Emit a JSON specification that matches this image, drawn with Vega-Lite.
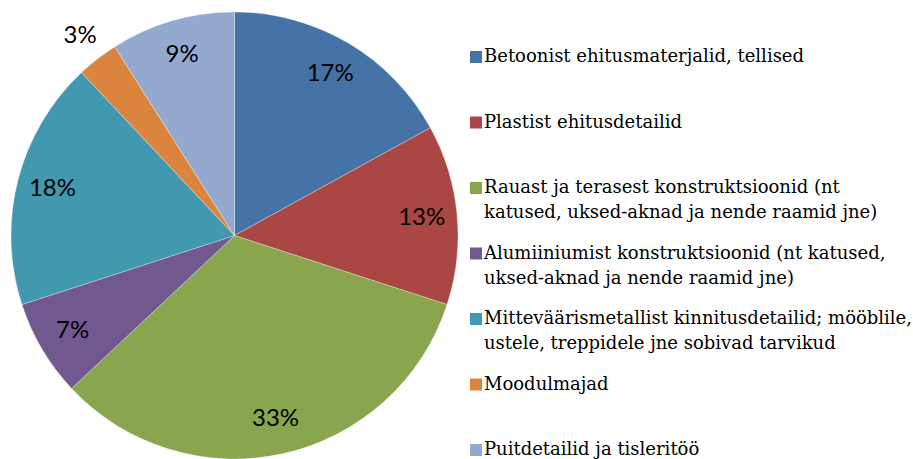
{
  "$schema": "https://vega.github.io/schema/vega-lite/v6.json",
  "padding": {"left": 10, "top": 11, "right": 0, "bottom": 0},
  "background": "white",
  "config": {"view": {"stroke": null}, "concat": {"spacing": 11}},
  "data": {
    "values": [
      {"order": 1, "name": "Betoonist ehitusmaterjalid, tellised", "share": 0.17, "lines": ["Betoonist ehitusmaterjalid, tellised"]},
      {"order": 2, "name": "Plastist ehitusdetailid", "share": 0.13, "lines": ["Plastist ehitusdetailid"]},
      {"order": 3, "name": "Rauast ja terasest konstruktsioonid", "share": 0.33, "lines": ["Rauast ja terasest konstruktsioonid (nt", "katused, uksed-aknad ja nende raamid jne)"]},
      {"order": 4, "name": "Alumiiniumist konstruktsioonid", "share": 0.07, "lines": ["Alumiiniumist konstruktsioonid (nt katused,", "uksed-aknad ja nende raamid jne)"]},
      {"order": 5, "name": "Mitteväärismetallist kinnitusdetailid", "share": 0.18, "lines": ["Mitteväärismetallist kinnitusdetailid; mööblile,", "ustele, treppidele jne sobivad tarvikud"]},
      {"order": 6, "name": "Moodulmajad", "share": 0.03, "lines": ["Moodulmajad"]},
      {"order": 7, "name": "Puitdetailid ja tisleritöö", "share": 0.09, "lines": ["Puitdetailid ja tisleritöö"]}
    ]
  },
  "hconcat": [
    {
      "width": 447,
      "height": 447,
      "encoding": {
        "theta": {"field": "share", "type": "quantitative", "stack": true},
        "order": {"field": "order", "type": "quantitative"}
      },
      "layer": [
        {
          "mark": {"type": "arc", "outerRadius": 223.5, "stroke": "white", "strokeWidth": 0.3},
          "encoding": {
            "color": {
              "field": "name", "type": "nominal", "legend": null,
              "scale": {
                "domain": ["Betoonist ehitusmaterjalid, tellised", "Plastist ehitusdetailid", "Rauast ja terasest konstruktsioonid", "Alumiiniumist konstruktsioonid", "Mitteväärismetallist kinnitusdetailid", "Moodulmajad", "Puitdetailid ja tisleritöö"],
                "range": ["#4572A7", "#AA4643", "#89A54E", "#71588F", "#4198AF", "#DB843D", "#93A9CF"]
              }
            }
          }
        },
        {
          "mark": {"type": "text", "font": "Lato", "fontSize": 24, "color": "black"},
          "encoding": {
            "detail": {"field": "name", "type": "nominal"},
            "text": {"field": "share", "type": "quantitative", "format": ".0%"},
            "radius": {"field": "share", "type": "quantitative", "scale": {"type": "linear", "domain": [0.03, 0.04], "range": [252, 188], "clamp": true, "zero": false}}
          }
        }
      ]
    },
    {
      "width": 12,
      "height": 447,
      "encoding": {
        "y": {"field": "name", "type": "nominal", "sort": null, "axis": null, "scale": {"type": "point", "padding": 0, "range": [45, 438]}}
      },
      "layer": [
        {
          "mark": {"type": "point", "shape": "square", "size": 144, "filled": true, "opacity": 1, "strokeWidth": 0},
          "encoding": {
            "color": {
              "field": "name", "type": "nominal", "legend": null,
              "scale": {
                "domain": ["Betoonist ehitusmaterjalid, tellised", "Plastist ehitusdetailid", "Rauast ja terasest konstruktsioonid", "Alumiiniumist konstruktsioonid", "Mitteväärismetallist kinnitusdetailid", "Moodulmajad", "Puitdetailid ja tisleritöö"],
                "range": ["#4572A7", "#AA4643", "#89A54E", "#71588F", "#4198AF", "#DB843D", "#93A9CF"]
              }
            }
          }
        },
        {
          "mark": {"type": "text", "align": "left", "baseline": "middle", "dx": 8, "font": "DejaVu Serif", "fontSize": 18, "lineHeight": 25, "color": "black"},
          "encoding": {
            "text": {"field": "lines", "type": "nominal"}
          }
        }
      ]
    }
  ]
}
